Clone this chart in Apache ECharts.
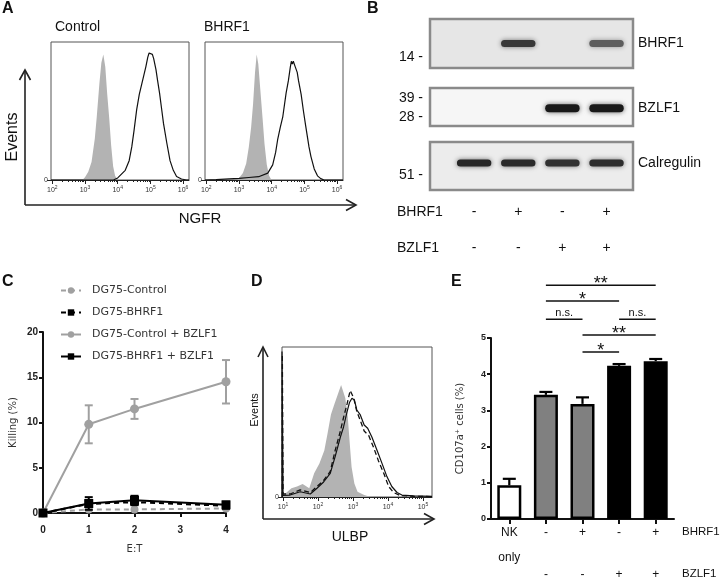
<!DOCTYPE html>
<html><head><meta charset="utf-8">
<script src="https://cdn.jsdelivr.net/npm/echarts@6/dist/echarts.min.js"></script>
<style>html,body{margin:0;padding:0;background:#fff}#c{width:720px;height:580px}</style>
</head><body><div id="c"></div>
<script>
// ---------- Panel A : NGFR flow histograms (x = log10 intensity, y = % of max) ----------
const ngfrDecades = [2, 3, 4, 5, 6];
const ngfrIsoControl = [[2.92,0],[3.0,2],[3.1,6],[3.2,13],[3.3,30],[3.36,46],[3.44,70],[3.5,85],[3.56,91],[3.62,82],[3.68,62],[3.74,45],[3.8,25],[3.86,10],[3.92,3],[3.98,0.5],[4.04,0]];
const ngfrControl = [[1.96,0],[3.87,0],[4.0,1.5],[4.23,7],[4.35,14],[4.43,24],[4.5,36],[4.58,51],[4.66,62],[4.74,70],[4.8,76],[4.86,82],[4.92,89],[4.96,92],[4.99,91],[5.02,93],[5.06,91],[5.1,88],[5.17,80],[5.22,72],[5.28,63],[5.34,52],[5.4,41],[5.5,27],[5.6,14],[5.7,7],[5.8,2.5],[5.95,0.7],[6.1,0],[6.18,0]];
const ngfrIsoBHRF1 = [[2.94,0],[3.02,2],[3.12,5],[3.22,12],[3.3,24],[3.37,38],[3.43,55],[3.49,78],[3.54,91],[3.59,84],[3.65,66],[3.72,45],[3.78,26],[3.85,11],[3.92,3],[3.98,0.5],[4.04,0]];
const ngfrBHRF1 = [[1.96,0],[2.3,0.3],[2.7,0.8],[3.0,1.2],[3.3,1.8],[3.6,2.4],[3.88,5],[4.03,11],[4.12,20],[4.18,29],[4.26,38],[4.34,46],[4.44,63],[4.51,72],[4.57,82],[4.6,86],[4.63,84],[4.66,86],[4.72,82],[4.78,78],[4.82,72],[4.9,62],[4.97,50],[5.04,39],[5.14,24],[5.2,17],[5.3,8],[5.4,3],[5.5,1],[5.6,0],[6.18,0]];

// ---------- Panel B : western blot band intensities (0..1) per lane ----------
const blotLanes = [1, 2, 3, 4];
const bandBHRF1 = [0, 0.82, 0, 0.6];
const bandBZLF1 = [0, 0, 1, 1];
const bandCalregulin = [0.92, 0.9, 0.86, 0.88];
const laneBHRF1 = ['-', '+', '-', '+'];
const laneBZLF1 = ['-', '-', '+', '+'];
const mwMarkers = ['14 -', '39 -', '28 -', '51 -'];

// ---------- Panel C : killing (%) vs E:T ----------
const etRatio = [0, 1, 2, 4];
const killControl = [0, 0.4, 0.4, 0.5];
const killBHRF1 = [0, 1.0, 1.2, 0.8];
const killControlBZLF1 = [0, 9.8, 11.5, 14.5];
const errControlBZLF1 = [0, 2.1, 1.1, 2.4];
const killBHRF1BZLF1 = [0, 1.05, 1.4, 0.9];
const errBHRF1BZLF1 = [0, 0.7, 0.5, 0.35];

// ---------- Panel D : ULBP flow histograms ----------
const ulbpDecades = [1, 2, 3, 4, 5];
const ulbpIso = [[0.97,0],[1.05,2],[1.24,5.8],[1.4,7],[1.56,8.7],[1.75,5.8],[1.89,15.8],[2.04,22.4],[2.18,31],[2.27,42],[2.37,55],[2.47,62],[2.56,68],[2.66,74.7],[2.71,76],[2.78,66],[2.85,53.6],[2.9,38],[2.96,20],[3.04,9],[3.13,3.5],[3.32,1.3],[3.51,0]];
const ulbpSolid = [[0.97,0],[0.97,97],[0.99,97],[1.0,1],[1.2,1.3],[1.49,3.5],[1.78,2],[1.97,5.8],[2.16,10],[2.35,15.8],[2.49,26.9],[2.64,40],[2.73,46.7],[2.83,56.7],[2.9,63],[2.97,65.8],[3.04,64.7],[3.11,58],[3.21,54.7],[3.32,48],[3.42,45.8],[3.54,40],[3.69,31],[3.83,22.4],[3.97,13.6],[4.11,7],[4.26,3],[4.4,1.3],[4.73,0.7],[5.26,0.4]];
const ulbpDashed = [[0.98,0],[0.98,95],[1.0,2],[1.2,2],[1.49,4.7],[1.78,3],[1.97,7],[2.16,11],[2.35,17],[2.49,31],[2.64,44],[2.73,53],[2.83,62],[2.92,71],[2.97,72],[3.02,66],[3.11,57],[3.21,51],[3.32,44],[3.45,41],[3.59,33],[3.73,24],[3.88,15.8],[4.02,7],[4.16,3],[4.35,1],[4.73,0.5],[5.26,0.3]];

// ---------- Panel E : CD107a+ cells (%) ----------
const cd107Groups = ['NK only', '1', '2', '3', '4'];
const cd107BHRF1 = ['', '-', '+', '-', '+'];
const cd107BZLF1 = ['', '-', '-', '+', '+'];
const cd107Mean = [0.93, 3.43, 3.18, 4.23, 4.36];
const cd107Err = [0.18, 0.08, 0.18, 0.05, 0.06];
const sigFrom = [1, 1, 1, 3, 2, 2];
const sigTo = [4, 3, 2, 4, 4, 3];
const sigLevel = [6.46, 6.02, 5.52, 5.52, 5.08, 4.61];
const sigLabel = ['**', '*', 'n.s.', 'n.s.', '**', '*'];

// ================= styling / layout =================
const FONT = 'Liberation Sans';
const barColors = ['#ffffff', '#808080', '#808080', '#000000', '#000000'];

function minorTicks(min, max) {
  const out = [];
  for (let n = Math.floor(min); n <= Math.ceil(max); n++) {
    for (let k = 2; k <= 9; k++) {
      const v = n + Math.log10(k);
      if (v > min && v < max) out.push(v);
    }
  }
  return out;
}
function flowX(gridIndex, min, max, decades) {
  return [{
    type: 'value', gridIndex, min, max, position: 'bottom',
    axisLine: {show: true, onZero: false, lineStyle: {color: '#222', width: 1}},
    axisTick: {show: true, customValues: decades, length: 4, lineStyle: {color: '#222'}},
    axisLabel: {show: true, customValues: decades, margin: 5,
      formatter: v => '{b|10}{s|' + v + '}',
      rich: {b: {fontSize: 7, lineHeight: 10, color: '#333', fontFamily: FONT},
             s: {fontSize: 5, lineHeight: 5, color: '#333', verticalAlign: 'top', fontFamily: FONT}}},
    splitLine: {show: false}
  }, {
    type: 'value', gridIndex, min, max, position: 'bottom',
    axisLine: {show: false, onZero: false}, axisLabel: {show: false}, splitLine: {show: false},
    axisTick: {show: true, customValues: minorTicks(min, max), length: 2, lineStyle: {color: '#222'}}
  }];
}
function flowY(gridIndex) {
  return {type: 'value', gridIndex, min: 0, max: 100, axisLine: {show: false}, splitLine: {show: false},
    axisTick: {show: true, customValues: [0], length: 4, lineStyle: {color: '#222'}},
    axisLabel: {show: true, customValues: [0], fontSize: 7, color: '#333', margin: 3}};
}
function hiddenAxis(type, gridIndex, min, max, extra) {
  return Object.assign({type, gridIndex, min, max, axisLine: {show: false}, axisTick: {show: false},
    axisLabel: {show: false}, splitLine: {show: false}}, extra || {});
}
function histArea(xi, yi, data) {
  return {type: 'line', xAxisIndex: xi, yAxisIndex: yi, data, symbol: 'none', z: 2,
    lineStyle: {width: 0, opacity: 0}, areaStyle: {color: '#b3b3b3', opacity: 1}};
}
function histLine(xi, yi, data, dashed) {
  return {type: 'line', xAxisIndex: xi, yAxisIndex: yi, data, symbol: 'none', z: 3,
    lineStyle: {color: '#111', width: dashed ? 1.3 : 1.2, type: dashed ? [5, 3] : 'solid'}};
}
function blotSeries(xi, yi, vals, yc, h) {
  return {type: 'custom', xAxisIndex: xi, yAxisIndex: yi, clip: true, z: 3,
    data: blotLanes.map((l, i) => [l, vals[i]]),
    renderItem: (p, api) => {
      const inten = api.value(1);
      if (!(inten > 0)) return null;
      const c = api.coord([api.value(0), yc]);
      const w = api.size([0.78, 0])[0];
      const g = Math.round(25 + (1 - inten) * 170);
      return {type: 'rect', shape: {x: c[0] - w / 2, y: c[1] - h / 2, width: w, height: h, r: h / 2},
        style: {fill: 'rgb(' + g + ',' + g + ',' + g + ')', shadowBlur: 5, shadowColor: 'rgba(0,0,0,' + (inten * 0.6) + ')'}};
    }};
}
function errSeriesC(vals, errs, color) {
  return {type: 'custom', xAxisIndex: 7, yAxisIndex: 5, z: 5, clip: false,
    data: etRatio.map((x, i) => [x, vals[i], errs[i]]),
    renderItem: (p, api) => {
      const x = api.value(0), y = api.value(1), e = api.value(2);
      if (!e) return null;
      const a = api.coord([x, y + e]), b = api.coord([x, y - e]);
      const hw = 4, s = {stroke: color, lineWidth: 2};
      return {type: 'group', children: [
        {type: 'line', shape: {x1: a[0], y1: a[1], x2: b[0], y2: b[1]}, style: s},
        {type: 'line', shape: {x1: a[0] - hw, y1: a[1], x2: a[0] + hw, y2: a[1]}, style: s},
        {type: 'line', shape: {x1: b[0] - hw, y1: b[1], x2: b[0] + hw, y2: b[1]}, style: s}]};
    }};
}
function txt(text, x, y, o) {
  return {type: 'text', x, y, silent: true, style: Object.assign({text, fill: '#111', fontFamily: FONT,
    fontSize: 14, align: 'left', verticalAlign: 'middle'}, o || {})};
}
function arrow(x0, y0, x1, y1, heads) {
  const s = {stroke: '#222', lineWidth: 1.6, fill: null};
  return [{type: 'polyline', silent: true, shape: {points: [[x0, y0], [x1, y1]]}, style: s}]
    .concat(heads.map(h => ({type: 'polyline', silent: true, shape: {points: h}, style: s})));
}

const G = {outerBoundsMode: 'none', containLabel: false};
const grids = [
  Object.assign({left: 51, top: 42, width: 138, height: 138, show: true, borderColor: '#555', borderWidth: 1, backgroundColor: 'transparent'}, G),
  Object.assign({left: 205, top: 42, width: 138, height: 138, show: true, borderColor: '#555', borderWidth: 1, backgroundColor: 'transparent'}, G),
  Object.assign({left: 430, top: 19, width: 203, height: 49, show: true, borderColor: '#8a8a8a', borderWidth: 2.5, backgroundColor: '#e6e6e6'}, G),
  Object.assign({left: 430, top: 88, width: 203, height: 38, show: true, borderColor: '#8a8a8a', borderWidth: 2.5, backgroundColor: '#f6f6f6'}, G),
  Object.assign({left: 430, top: 142, width: 203, height: 48, show: true, borderColor: '#8a8a8a', borderWidth: 2.5, backgroundColor: '#ececec'}, G),
  Object.assign({left: 43, top: 332, width: 183, height: 181}, G),
  Object.assign({left: 282, top: 347, width: 150, height: 150, show: true, borderColor: '#555', borderWidth: 1, backgroundColor: 'transparent'}, G),
  Object.assign({left: 491, top: 338, width: 183, height: 181}, G)
];

const xAxes = [].concat(
  flowX(0, 1.96, 6.18, ngfrDecades),           // 0,1
  flowX(1, 1.96, 6.18, ngfrDecades),           // 2,3
  [hiddenAxis('value', 2, 0, 4.6),             // 4
   hiddenAxis('value', 3, 0, 4.6),             // 5
   hiddenAxis('value', 4, 0, 4.6, {            // 6
     axisLabel: {show: true, customValues: blotLanes, margin: 4, lineHeight: 36, fontSize: 14, color: '#111',
       fontFamily: FONT, formatter: v => laneBHRF1[v - 1] + '\n' + laneBZLF1[v - 1]}}),
   {type: 'value', gridIndex: 5, min: 0, max: 4, interval: 1,               // 7
     axisLine: {show: true, onZero: false, lineStyle: {color: '#111', width: 2}},
     axisTick: {show: true, length: 4, lineStyle: {color: '#111', width: 2}},
     axisLabel: {fontSize: 10, fontWeight: 'bold', color: '#222', margin: 12, fontFamily: FONT},
     splitLine: {show: false},
     name: 'E:T', nameLocation: 'middle', nameGap: 31,
     nameTextStyle: {fontFamily: 'DejaVu Sans', fontSize: 10, color: '#333'}}],
  flowX(6, 0.97, 5.26, ulbpDecades),           // 8,9
  [{type: 'category', gridIndex: 7, data: cd107Groups,                      // 10
     axisLine: {show: true, onZero: false, lineStyle: {color: '#111', width: 2}},
     axisTick: {show: true, alignWithLabel: true, length: 5, lineStyle: {color: '#111', width: 2}},
     axisLabel: {interval: 0, margin: 3, fontSize: 12, lineHeight: 21, color: '#111', fontFamily: FONT,
       formatter: (v, i) => i === 0 ? '{a|NK}\n{b|only}' : cd107BHRF1[i] + '\n\n' + cd107BZLF1[i],
       rich: {a: {fontSize: 12, lineHeight: 21, fontFamily: FONT, color: '#111'},
              b: {fontSize: 12, lineHeight: 29, fontFamily: FONT, color: '#111'}}},
     splitLine: {show: false}}]
);

const yAxes = [
  flowY(0), flowY(1),
  hiddenAxis('value', 2, 0, 1), hiddenAxis('value', 3, 0, 1), hiddenAxis('value', 4, 0, 1),
  {type: 'value', gridIndex: 5, min: 0, max: 20, interval: 5,
    axisLine: {show: true, onZero: false, lineStyle: {color: '#111', width: 2}},
    axisTick: {show: true, length: 4, lineStyle: {color: '#111', width: 2}},
    axisLabel: {fontSize: 10, fontWeight: 'bold', color: '#222', margin: 5, fontFamily: FONT},
    splitLine: {show: false},
    name: 'Killing (%)', nameLocation: 'middle', nameGap: 25, nameRotate: 90,
    nameTextStyle: {fontFamily: 'DejaVu Sans', fontSize: 10, color: '#333'}},
  flowY(6),
  {type: 'value', gridIndex: 7, min: 0, max: 5, interval: 1,
    axisLine: {show: true, onZero: false, lineStyle: {color: '#111', width: 2}},
    axisTick: {show: true, length: 4, lineStyle: {color: '#111', width: 2}},
    axisLabel: {fontSize: 9, fontWeight: 'bold', color: '#222', margin: 5, fontFamily: FONT},
    splitLine: {show: false},
    name: 'CD107a\u207A cells (%)', nameLocation: 'middle', nameGap: 26, nameRotate: 90,
    nameTextStyle: {fontFamily: 'DejaVu Sans', fontSize: 10, color: '#333'}}
];

const GRAY = '#a0a0a0';
const series = [
  histArea(0, 0, ngfrIsoControl), histLine(0, 0, ngfrControl, false),
  histArea(2, 1, ngfrIsoBHRF1), histLine(2, 1, ngfrBHRF1, false),
  blotSeries(4, 2, bandBHRF1, 0.5, 7),
  blotSeries(5, 3, bandBZLF1, 0.47, 8),
  blotSeries(6, 4, bandCalregulin, 0.56, 7),
  {name: 'DG75-Control', type: 'line', xAxisIndex: 7, yAxisIndex: 5, z: 2,
    data: etRatio.map((x, i) => [x, killControl[i]]), symbol: 'circle', symbolSize: 8,
    lineStyle: {color: GRAY, width: 2, type: [5, 4]}, itemStyle: {color: GRAY}},
  {name: 'DG75-BHRF1', type: 'line', xAxisIndex: 7, yAxisIndex: 5, z: 3,
    data: etRatio.map((x, i) => [x, killBHRF1[i]]), symbol: 'rect', symbolSize: 8,
    lineStyle: {color: '#000', width: 2, type: [5, 4]}, itemStyle: {color: '#000'}},
  {name: 'DG75-Control + BZLF1', type: 'line', xAxisIndex: 7, yAxisIndex: 5, z: 2,
    data: etRatio.map((x, i) => [x, killControlBZLF1[i]]), symbol: 'circle', symbolSize: 9,
    lineStyle: {color: GRAY, width: 2}, itemStyle: {color: GRAY}},
  {name: 'DG75-BHRF1 + BZLF1', type: 'line', xAxisIndex: 7, yAxisIndex: 5, z: 3,
    data: etRatio.map((x, i) => [x, killBHRF1BZLF1[i]]), symbol: 'rect', symbolSize: 9,
    lineStyle: {color: '#000', width: 2}, itemStyle: {color: '#000'}},
  errSeriesC(killControlBZLF1, errControlBZLF1, GRAY),
  errSeriesC(killBHRF1BZLF1, errBHRF1BZLF1, '#000'),
  histArea(8, 6, ulbpIso), histLine(8, 6, ulbpSolid, false), histLine(8, 6, ulbpDashed, true),
  {type: 'bar', xAxisIndex: 10, yAxisIndex: 7, data: cd107Mean, barWidth: 24, z: 3,
    itemStyle: {color: p => barColors[p.dataIndex], borderColor: '#000', borderWidth: 2.5}},
  {type: 'custom', xAxisIndex: 10, yAxisIndex: 7, z: 2, clip: false,
    data: cd107Mean.map((m, i) => [i, m, cd107Err[i]]),
    renderItem: (p, api) => {
      const i = api.value(0), m = api.value(1), e = api.value(2);
      const a = api.coord([i, m]), b = api.coord([i, m + e]);
      const s = {stroke: '#000', lineWidth: 2.2};
      return {type: 'group', children: [
        {type: 'line', shape: {x1: a[0], y1: a[1], x2: b[0], y2: b[1]}, style: s},
        {type: 'line', shape: {x1: b[0] - 6.5, y1: b[1], x2: b[0] + 6.5, y2: b[1]}, style: s}]};
    }},
  {type: 'custom', xAxisIndex: 10, yAxisIndex: 7, z: 4, clip: false,
    data: sigFrom.map((f, i) => [f, sigTo[i], sigLevel[i]]),
    renderItem: (p, api) => {
      const i = p.dataIndex;
      const a = api.coord([api.value(0), api.value(2)]), b = api.coord([api.value(1), api.value(2)]);
      const lab = sigLabel[i], star = lab.indexOf('*') >= 0;
      return {type: 'group', children: [
        {type: 'line', shape: {x1: a[0], y1: a[1], x2: b[0], y2: b[1]}, style: {stroke: '#111', lineWidth: 1.5}},
        {type: 'text', x: (a[0] + b[0]) / 2, y: a[1] - (star ? 1 : 6),
          style: {text: lab, fill: '#111', fontFamily: FONT, fontSize: star ? 18 : 11,
            align: 'center', verticalAlign: 'middle'}}]};
    }}
];

const graphics = [
  txt('A', 2, 1, {fontSize: 16, fontWeight: 'bold', verticalAlign: 'top'}),
  txt('B', 367, 1, {fontSize: 16, fontWeight: 'bold', verticalAlign: 'top'}),
  txt('C', 2, 274, {fontSize: 16, fontWeight: 'bold', verticalAlign: 'top'}),
  txt('D', 251, 274, {fontSize: 16, fontWeight: 'bold', verticalAlign: 'top'}),
  txt('E', 451, 274, {fontSize: 16, fontWeight: 'bold', verticalAlign: 'top'}),
  txt('Control', 55, 27), txt('BHRF1', 204, 27),
  Object.assign(txt('Events', 13, 137, {fontSize: 16, align: 'center'}), {rotation: Math.PI / 2}),
  txt('NGFR', 200, 219, {fontSize: 15, align: 'center'}),
  txt(mwMarkers[0], 423, 57, {align: 'right'}),
  txt(mwMarkers[1], 423, 98, {align: 'right'}),
  txt(mwMarkers[2], 423, 117, {align: 'right'}),
  txt(mwMarkers[3], 423, 175, {align: 'right'}),
  txt('BHRF1', 638, 43), txt('BZLF1', 638, 108), txt('Calregulin', 638, 163),
  txt('BHRF1', 397, 212), txt('BZLF1', 397, 248),
  Object.assign(txt('Events', 255, 410, {fontSize: 11, align: 'center'}), {rotation: Math.PI / 2}),
  txt('ULBP', 350, 537, {fontSize: 14, align: 'center'}),
  txt('BHRF1', 682, 532, {fontSize: 11.5}), txt('BZLF1', 682, 574, {fontSize: 11.5})
].concat(
  arrow(25, 205, 25, 71, [[[19.5, 80], [25, 70], [30.5, 80]]]),
  arrow(25, 205, 355, 205, [[[346, 199.5], [356, 205], [346, 210.5]]]),
  arrow(263, 519, 263, 348, [[[258, 357], [263, 347], [268, 357]]]),
  arrow(263, 519, 433, 519, [[[424, 513.5], [434, 519], [424, 524.5]]])
);

const chart = echarts.init(document.getElementById('c'), null, {renderer: 'canvas'});
chart.setOption({
  animation: false,
  backgroundColor: '#ffffff',
  textStyle: {fontFamily: FONT},
  grid: grids, xAxis: xAxes, yAxis: yAxes, series,
  legend: {data: ['DG75-Control', 'DG75-BHRF1', 'DG75-Control + BZLF1', 'DG75-BHRF1 + BZLF1'],
    orient: 'vertical', left: 55, top: 279, itemWidth: 20, itemHeight: 8, itemGap: 9,
    selectedMode: false,
    textStyle: {fontFamily: 'DejaVu Sans', fontSize: 11, color: '#333', padding: [0, 0, 0, 6], lineHeight: 13}},
  graphic: {elements: graphics}
});
</script></body></html>
